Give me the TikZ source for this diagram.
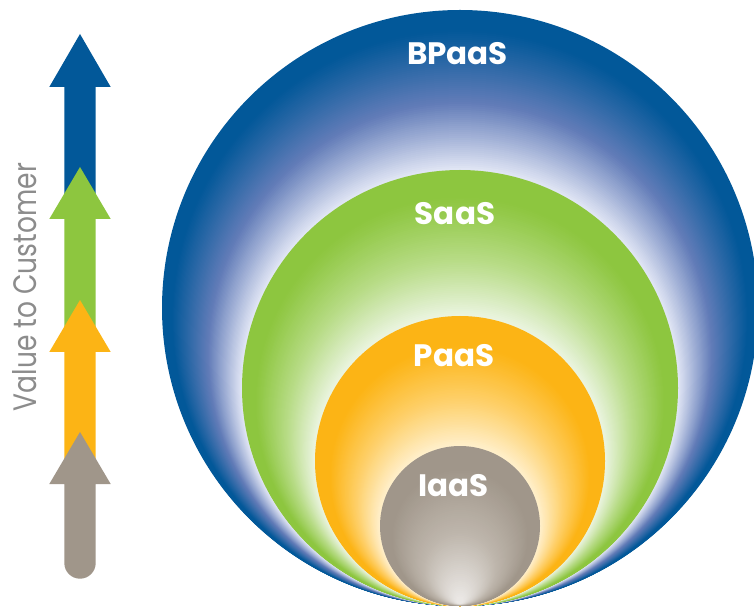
\documentclass[tikz,border=0pt]{standalone}
\usepackage{fontspec}
\setmainfont{Poppins}
\usepackage{graphicx}
\definecolor{cblue}{RGB}{2,88,153}
\definecolor{mblue}{RGB}{98,124,184}
\definecolor{lblue}{RGB}{228,232,246}
\definecolor{cgreen}{RGB}{141,198,63}
\definecolor{mgreen}{RGB}{184,220,135}
\definecolor{lgreen}{RGB}{236,245,226}
\definecolor{corange}{RGB}{252,180,21}
\definecolor{morange}{RGB}{254,208,105}
\definecolor{lorange}{RGB}{255,240,205}
\definecolor{cgray}{RGB}{160,150,138}
\definecolor{mgray}{RGB}{190,182,172}
\definecolor{lgray}{RGB}{234,231,228}
\definecolor{ctext}{RGB}{140,140,140}
% ring shading: base, mid, light colour, outer r, outer cy, inner r, inner cy, start, gamma
\newcommand\ringshade[9]{%
  \foreach \i in {0,...,80}{%
    \pgfmathsetmacro\tt{\i/80}%
    \pgfmathsetmacro\rr{#4+\tt*(#6-#4)}%
    \pgfmathsetmacro\yy{#5+\tt*(#7-#5)}%
    \pgfmathsetmacro\ww{100*(max(0.001,(\tt-#8)/(1-#8)))^#9}%
    \ifdim\ww pt<50pt
      \pgfmathsetmacro\pp{2*\ww}%
      \fill[#2!\pp!#1] (460,\yy) circle[radius=\rr];
    \else
      \pgfmathsetmacro\pp{2*\ww-100}%
      \fill[#3!\pp!#2] (460,\yy) circle[radius=\rr];
    \fi
  }%
}
\tikzset{
  lab/.style={text=white,font=\fontsize{31}{31}\selectfont\bfseries,inner sep=0pt}
}
\begin{document}
\begin{tikzpicture}[x=1pt,y=1pt]
\useasboundingbox (0,0) rectangle (754,608);
\fill[white] (0,0) rectangle (754,608);
\begin{scope}
\clip (0,0) rectangle (754,608);
% BPaaS ring
\ringshade{cblue}{mblue}{lblue}{298}{300}{218}{220}{0.12}{1.05}
% SaaS ring
\ringshade{cgreen}{mgreen}{lgreen}{218}{220}{145}{147}{0.18}{1.1}
% PaaS ring
\ringshade{corange}{morange}{lorange}{145}{147}{80}{82}{0.22}{1.1}
% IaaS
\ringshade{cgray}{mgray}{lgray}{80}{82}{4}{8}{0.15}{1.0}
\end{scope}
\node[lab] (bpaas) at (457.5,554) {BPaaS};
\node[lab] (saas) at (455,394) {SaaS};
\node[lab] (paas) at (454,252) {PaaS};
\node[lab] (iaas) at (453.5,122) {IaaS};
% arrows
\fill[cblue] (64.3,398) -- (64.3,521) -- (49.3,521) -- (80,574) -- (110.7,521) -- (95.7,521) -- (95.7,398) -- cycle;
\fill[cgreen] (64.3,268) -- (64.3,389) -- (49.3,389) -- (80,441) -- (110.7,389) -- (95.7,389) -- (95.7,268) -- cycle;
\fill[corange] (64.3,138) -- (64.3,256) -- (49.3,256) -- (80,308) -- (110.7,256) -- (95.7,256) -- (95.7,138) -- cycle;
\fill[cgray] (64.3,45) -- (64.3,124) -- (49.3,124) -- (80,176) -- (110.7,124) -- (95.7,124) -- (95.7,45) arc[start angle=0,end angle=-180,radius=15.7] -- cycle;
\node[rotate=90,inner sep=0pt,text=ctext] (value) at (25,321) {\resizebox{248pt}{24pt}{Value to Customer}};
\end{tikzpicture}
\end{document}
